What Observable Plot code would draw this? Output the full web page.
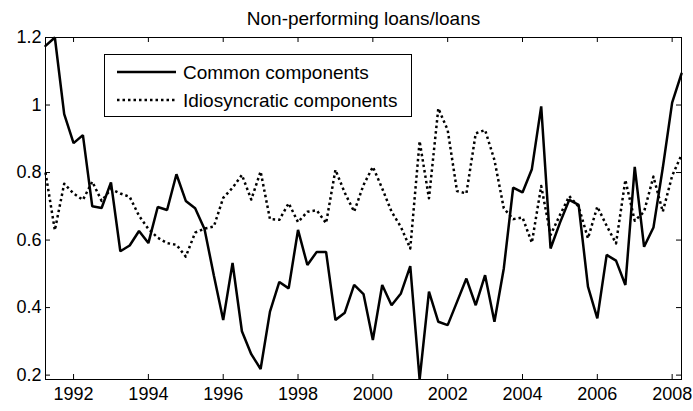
<!DOCTYPE html>
<html>
<head>
<meta charset="utf-8">
<script src="https://cdn.jsdelivr.net/npm/d3@7"></script>
<script src="https://cdn.jsdelivr.net/npm/@observablehq/plot@0.6"></script>
<style>
  html, body { margin: 0; padding: 0; background: #fff; }
  #wrap { position: relative; width: 693px; height: 411px; font-family: "Liberation Sans", Arial, Helvetica, sans-serif; }
  #legend { position: absolute; left: 104px; top: 54px; width: 308px; height: 63px; box-sizing: border-box; border: 1px solid #000; background: #fff; }
  #legend svg { display: block; }
</style>
</head>
<body>
<div id="wrap"><div id="chart"></div><div id="legend"></div></div>
<script>
const title = "Non-performing loans/loans";
const seriesNames = ["Common components", "Idiosyncratic components"];
const startYear = 1991.25; // first quarter shown
const common = [1.175, 1.2, 0.973, 0.887, 0.911, 0.70, 0.695, 0.771, 0.567, 0.584, 0.627, 0.591,
  0.698, 0.689, 0.795, 0.716, 0.694, 0.633, 0.495, 0.363, 0.532, 0.33, 0.262, 0.218,
  0.388, 0.476, 0.457, 0.630, 0.526, 0.565, 0.565, 0.363, 0.385, 0.467, 0.440, 0.304,
  0.467, 0.407, 0.442, 0.523, 0.187, 0.447, 0.358, 0.348, 0.417, 0.486, 0.407, 0.496,
  0.358, 0.516, 0.755, 0.741, 0.810, 0.996, 0.575, 0.651, 0.719, 0.704, 0.462, 0.368,
  0.556, 0.539, 0.467, 0.817, 0.580, 0.637, 0.814, 1.007, 1.093];
const idiosyncratic = [0.800, 0.629, 0.767, 0.738, 0.719, 0.773, 0.716, 0.751, 0.738, 0.728, 0.672, 0.633,
  0.607, 0.591, 0.586, 0.551, 0.622, 0.634, 0.640, 0.725, 0.755, 0.793, 0.720, 0.803,
  0.662, 0.660, 0.709, 0.653, 0.684, 0.688, 0.650, 0.808, 0.740, 0.684, 0.763, 0.817,
  0.753, 0.684, 0.639, 0.575, 0.893, 0.724, 0.990, 0.926, 0.745, 0.738, 0.916, 0.926,
  0.837, 0.694, 0.662, 0.667, 0.592, 0.760, 0.615, 0.674, 0.730, 0.699, 0.605, 0.699,
  0.642, 0.590, 0.778, 0.657, 0.684, 0.788, 0.684, 0.790, 0.852];
const xTicks = [1992, 1994, 1996, 1998, 2000, 2002, 2004, 2006, 2008];
const yTicks = [0.2, 0.4, 0.6, 0.8, 1.0, 1.2];

const dates = common.map((_, i) => startYear + i / 4);
const commonData = common.map((v, i) => ({date: dates[i], value: v}));
const idioData = idiosyncratic.map((v, i) => ({date: dates[i], value: v}));

const W = 693, H = 411, mL = 45, mR = 12, mT = 37, mB = 32;
const innerW = W - mL - mR, innerH = H - mT - mB, tick = 5;
const fontFam = "Liberation Sans, Arial, Helvetica, sans-serif";

const chart = Plot.plot({
  width: W, height: H,
  marginLeft: mL, marginRight: mR, marginTop: mT, marginBottom: mB,
  style: {fontFamily: fontFam, fontSize: "18px", color: "#000", background: "#fff"},
  x: {domain: [dates[0], dates[dates.length - 1]], label: null},
  y: {domain: [d3.min(common.concat(idiosyncratic)), d3.max(common.concat(idiosyncratic))], label: null},
  marks: [
    Plot.line(idioData, {x: "date", y: "value", stroke: "#000", strokeWidth: 2.5, strokeDasharray: "2.5,3", strokeLinecap: "butt"}),
    Plot.line(commonData, {x: "date", y: "value", stroke: "#000", strokeWidth: 2.5, strokeLinejoin: "miter"}),
    Plot.tickX(xTicks, {x: d => d, insetTop: innerH - tick, stroke: "#000"}),
    Plot.tickX(xTicks, {x: d => d, insetBottom: innerH - tick, stroke: "#000"}),
    Plot.tickY(yTicks, {y: d => d, insetRight: innerW - tick, stroke: "#000"}),
    Plot.tickY(yTicks, {y: d => d, insetLeft: innerW - tick, stroke: "#000"}),
    Plot.axisX(xTicks, {anchor: "bottom", tickSize: 0, tickPadding: 8, label: null, tickFormat: d => String(d), fontSize: 18}),
    Plot.axisY(yTicks, {anchor: "left", tickSize: 0, tickPadding: 4, label: null, tickFormat: d => String(+d.toFixed(1)), fontSize: 18}),
    Plot.frame({stroke: "#000", strokeWidth: 1}),
    Plot.text([title], {frameAnchor: "top", dy: -19, fontSize: 19, fill: "#000", lineAnchor: "middle"})
  ]
});
document.getElementById("chart").appendChild(chart);

// Legend (overlaid box inside the axes, like the original)
const lg = d3.select("#legend").append("svg").attr("width", 306).attr("height", 61)
  .style("font-family", fontFam);
const rows = [
  {name: seriesNames[0], dash: null, y: 17},
  {name: seriesNames[1], dash: "2.5,3", y: 45}
];
rows.forEach(r => {
  const ln = lg.append("line").attr("x1", 12).attr("x2", 71).attr("y1", r.y).attr("y2", r.y)
    .attr("stroke", "#000").attr("stroke-width", 2.5);
  if (r.dash) ln.attr("stroke-dasharray", r.dash);
  lg.append("text").attr("x", 78).attr("y", r.y).attr("dy", "0.35em")
    .attr("font-size", 19).attr("fill", "#000").text(r.name);
});
</script>
</body>
</html>
